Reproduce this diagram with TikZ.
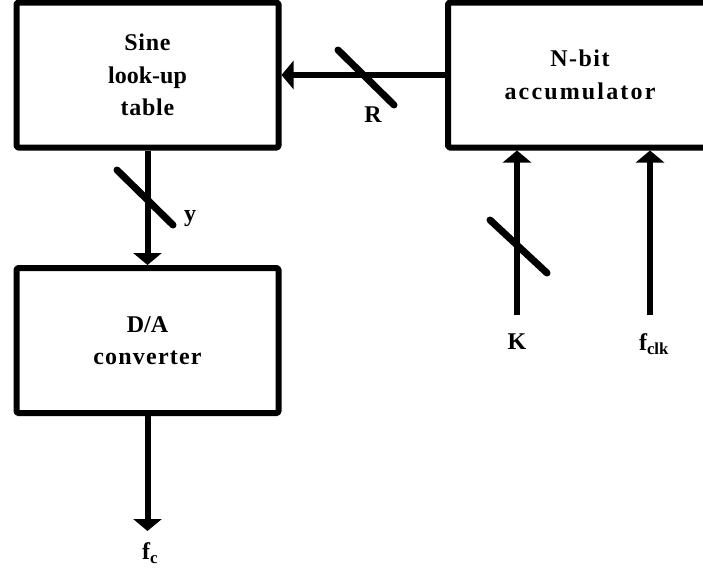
\documentclass[tikz,border=0pt]{standalone}
\usepackage{fontspec}
\setmainfont{Liberation Serif}
\usetikzlibrary{arrows.meta}
\tikzset{
  block/.style={draw, line width=6pt, line join=round, rounded corners=1.5pt, inner sep=0pt,
    font=\bfseries\fontsize{24}{32.5}\selectfont, align=center},
  sig/.style={line width=6pt, -{Triangle[width=28pt,length=12pt]}},
  busmark/.style={line width=7pt, line cap=round},
  lbl/.style={font=\bfseries\fontsize{24}{26}\selectfont, inner sep=0pt}
}
\newcommand{\spaced}[2]{{\addfontfeature{LetterSpace=#1}#2}}
\begin{document}
\begin{tikzpicture}[x=1pt,y=-1pt]
\useasboundingbox (0,0) rectangle (703,573);
\clip (0,0) rectangle (703,573);
% blocks
\node[block, minimum width=262pt, minimum height=145pt] (lut) at (147.5,75) {\spaced{3}{Sine}\\look-up\\\spaced{3}{table}};
\node[block, minimum width=264pt, minimum height=145pt] (acc) at (580,75) {\spaced{6}{N-bit}\\\spaced{9}{accumulator}};
\node[block, minimum width=262pt, minimum height=145pt] (dac) at (147.5,340.5) {D/A\\\spaced{5}{converter}};
% free ends
\coordinate (kin) at (517,315);
\coordinate (clkin) at (650,315);
\coordinate (fout) at (147.5,531);
% connectors
\draw[sig] (acc.west) -- (lut.east);
\draw[sig] (lut.south) -- (dac.north);
\draw[sig] (dac.south) -- (fout);
\draw[sig] (kin) -- (kin |- acc.south);
\draw[sig] (clkin) -- (clkin |- acc.south);
% bus width marks
\draw[busmark] (338,50) -- (394,105);
\draw[busmark] (117,170) -- (173,225);
\draw[busmark] (490,220) -- (547,273);
% labels
\node[lbl] (rl) at (373,115) {R};
\node[lbl] (yl) at (190,219) {y};
\node[lbl] (kl) at (517,342) {K};
\node[lbl] (clkl) at (654,344) {f\textsubscript{clk}};
\node[lbl] (fcl) at (150,553) {f\textsubscript{c}};
\end{tikzpicture}
\end{document}
